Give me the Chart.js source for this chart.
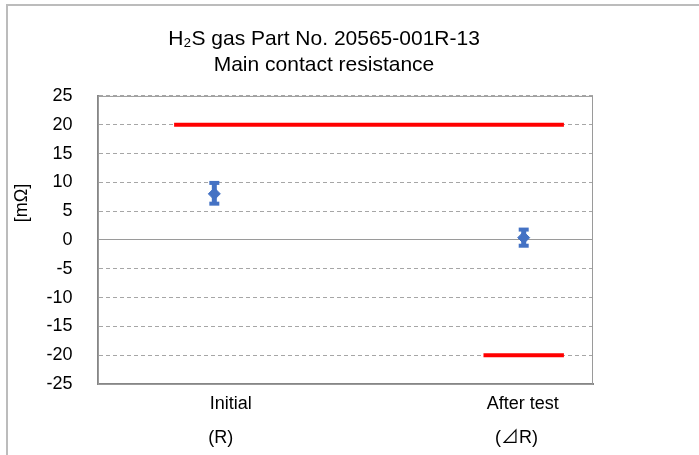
<!DOCTYPE html>
<html>
<head>
<meta charset="utf-8">
<script src="https://cdn.jsdelivr.net/npm/chart.js@4/dist/chart.umd.min.js"></script>
<style>
  body { margin: 0; background: #fff; }
  #wrap { position: relative; width: 699px; height: 455px; overflow: hidden; }
  #frame {
    position: absolute; left: 6px; top: 4px; right: -10px; bottom: -10px;
    border-top: 2px solid #bcbcbc; border-left: 2px solid #bcbcbc; pointer-events: none;
  }
</style>
</head>
<body>
<div id="wrap">
  <canvas id="c" width="699" height="455"></canvas>
  <div id="frame"></div>
</div>
<script>
// categories and their position on the x scale
const categories = ['Initial', 'After test'];
const subLabels = ['(R)', '(⊿R)'];
const catX = [1, 2];

// measured values [mΩ]: mean, min, max
const meanVals = [8.0, 0.4];
const minVals = [6.3, -1.0];
const maxVals = [9.9, 1.8];

// spec limits
const upperLimit = [20, 20];
const upperLimitX = [0.87, 2.13];
const lowerLimit = [-20, -20];
const lowerLimitX = [1.87, 2.13];

const yTicks = [25, 20, 15, 10, 5, 0, -5, -10, -15, -20, -25];

const X_MIN = 0.624, X_MAX = 2.224;
const BLUE = '#4472c4';
const FONT = "'Liberation Sans', Arial, 'Noto Sans CJK JP', sans-serif";

const datasets = [];

// limit lines
datasets.push({
    data: upperLimitX.map((x, i) => ({x, y: upperLimit[i]})),
    borderColor: '#ff0000', borderWidth: 4, pointRadius: 0, borderCapStyle: 'butt'
});
datasets.push({
    data: lowerLimitX.map((x, i) => ({x, y: lowerLimit[i]})),
    borderColor: '#ff0000', borderWidth: 4, pointRadius: 0, borderCapStyle: 'butt'
});

// min-max bars with caps
catX.forEach((x, i) => {
    datasets.push({
        data: [{x, y: minVals[i]}, {x, y: maxVals[i]}],
        borderColor: BLUE, borderWidth: 5, borderCapStyle: 'butt',
        pointStyle: 'line', pointRadius: 5, pointBorderWidth: 4,
        pointBorderColor: BLUE, pointBackgroundColor: BLUE
    });
});

// mean markers
datasets.push({
    data: catX.map((x, i) => ({x, y: meanVals[i]})),
    showLine: false, pointStyle: 'rectRot', pointRadius: 6,
    pointBackgroundColor: BLUE, pointBorderColor: BLUE, pointBorderWidth: 1
});

// frame around the plot area
const plotBox = {
    id: 'plotBox',
    beforeDatasetsDraw(chart) {
        const {ctx, chartArea: a} = chart;
        ctx.save();
        ctx.strokeStyle = '#9a9a9a';
        ctx.lineWidth = 1;
        ctx.strokeRect(a.left + 0.5, a.top + 0.5, a.right - a.left - 1, a.bottom - a.top);
        ctx.restore();
    }
};

// unit label on the left side
const unitLabel = {
    id: 'unitLabel',
    afterDraw(chart) {
        const {ctx, chartArea: a} = chart;
        ctx.save();
        ctx.translate(22, a.top + 107);
        ctx.rotate(-Math.PI / 2);
        ctx.font = '18px ' + FONT;
        ctx.fillStyle = '#000';
        ctx.textAlign = 'center';
        ctx.textBaseline = 'middle';
        ctx.fillText('[mΩ]', 0, 0);
        ctx.restore();
    }
};

new Chart(document.getElementById('c'), {
    type: 'scatter',
    data: {datasets},
    plugins: [plotBox, unitLabel],
    options: {
        responsive: false,
        animation: false,
        showLine: true,
        layout: {padding: {left: 0, right: 51, top: 0, bottom: 0}},
        plugins: {
            legend: {display: false},
            tooltip: {enabled: false},
            title: {
                display: true,
                text: ['H₂S gas Part No. 20565-001R-13', 'Main contact resistance'],
                color: '#000',
                font: {family: FONT, size: 21, weight: 'normal', lineHeight: 1.26},
                padding: {top: 26, bottom: 17}
            }
        },
        scales: {
            x: {
                type: 'linear', min: X_MIN, max: X_MAX,
                grid: {display: false, drawTicks: false},
                border: {display: true, color: '#868686', width: 2},
                afterBuildTicks: s => { s.ticks = [{value: 1.053}, {value: 1.997}]; },
                afterFit: s => { s.height = 38; },
                ticks: {
                    autoSkip: false, maxRotation: 0, padding: 9,
                    color: '#000', font: {family: FONT, size: 18},
                    callback: (v, i) => categories[i]
                }
            },
            x2: {
                type: 'linear', position: 'bottom', min: X_MIN, max: X_MAX,
                grid: {display: false, drawTicks: false},
                border: {display: false},
                afterBuildTicks: s => { s.ticks = [{value: 1.021}, {value: 1.977}]; },
                afterFit: s => { s.height = 33; },
                ticks: {
                    autoSkip: false, maxRotation: 0, padding: 5,
                    color: '#000', font: {family: FONT, size: 18},
                    callback: (v, i) => subLabels[i]
                }
            },
            y: {
                min: -25, max: 25,
                afterBuildTicks: s => { s.ticks = yTicks.map(value => ({value})); },
                afterFit: s => { s.width = 98; },
                grid: {
                    drawTicks: false, lineWidth: 1,
                    color: ctx => ctx.tick && ctx.tick.value === 0 ? '#9a9a9a' : '#a6a6a6'
                },
                border: {
                    display: true, color: '#868686', width: 2,
                    dash: ctx => ctx.tick && ctx.tick.value === 0 ? [] : [4, 3]
                },
                ticks: {padding: 25.5, color: '#000', font: {family: FONT, size: 18}}
            },
            y2: {
                position: 'right', min: -25, max: 25,
                afterFit: s => { s.width = 55; },
                grid: {display: false, drawTicks: false},
                border: {display: false},
                ticks: {display: false}
            }
        }
    }
});
</script>
</body>
</html>
